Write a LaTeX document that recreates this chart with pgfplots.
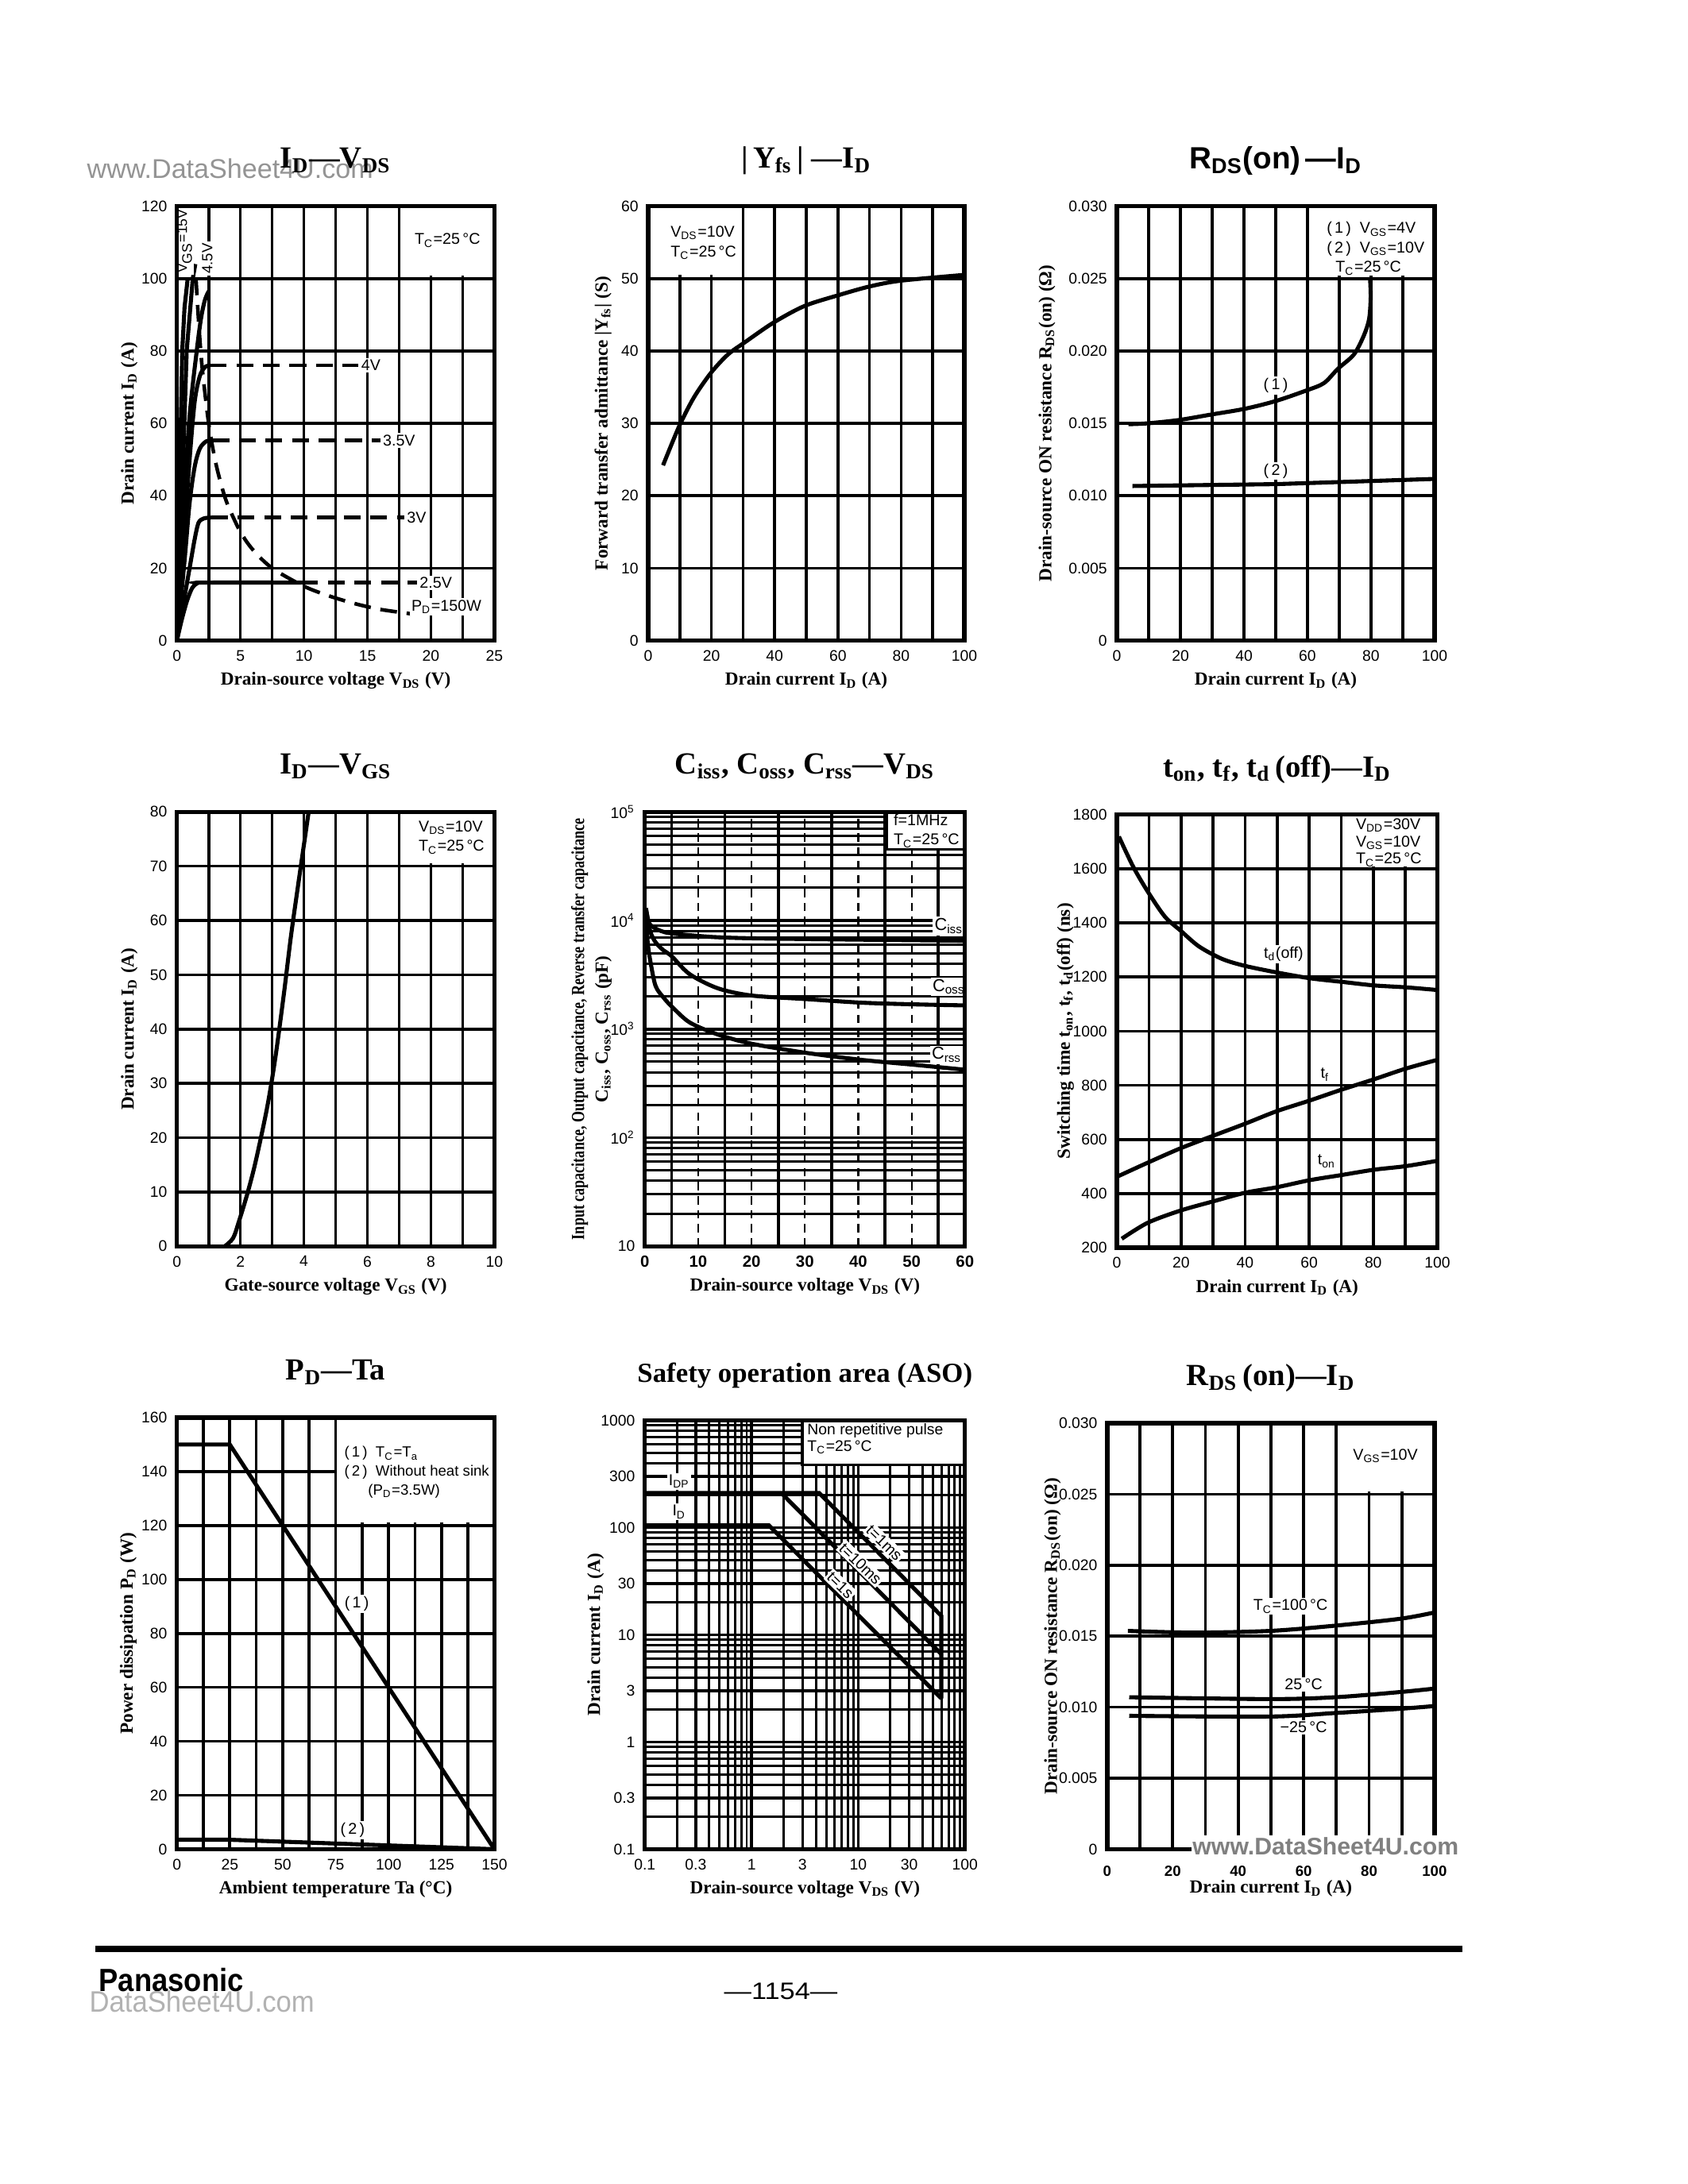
\documentclass[border=0pt]{standalone}
\usepackage{fontspec}
\setmainfont{Liberation Serif}
\newfontfamily\sansf{Liberation Sans}
\usepackage{pgfplots}
\pgfplotsset{compat=1.18}

\newcommand\tk{\sansf\fontsize{5.5}{6}\selectfont}
\newcommand\an{\sansf\fontsize{5.6}{7}\selectfont}
\newcommand\lb{\bfseries\fontsize{6.6}{7.5}\selectfont}
\newcommand\ti{\bfseries\fontsize{11}{12}\selectfont}
\newcommand\sbs[1]{\textsubscript{#1}}
\newcommand\axframe{\draw[line width=1.5pt] (rel axis cs:0,0) rectangle (rel axis cs:1,1);}

\tikzset{
  dsh/.style={line width=1.3pt, dash pattern=on 6pt off 3.5pt},
  lab/.style={font=\an, fill=white, inner sep=0.6pt},
}
\pgfplotsset{
  ds/.style={
    scale only axis, enlargelimits=false, clip=false, anchor=south west,
    axis line style={line width=1.5pt},
    grid=both,
    major grid style={line width=1.05pt,black},
    minor grid style={line width=1.05pt,black},
    major tick length=0pt, minor tick length=0pt,
    ticklabel style={font=\tk},
    scaled ticks=false,
    /pgf/number format/assume math mode=true,
    /pgf/number format/1000 sep={},
    title style={font=\ti, at={(axis description cs:0.5,1.066)}, anchor=center},
    xlabel style={font=\lb, at={(axis description cs:0.5,-0.093)}, anchor=center},
    ylabel style={font=\lb, anchor=center},
    every axis plot post/.append style={black, mark=none},
    every axis plot/.append style={line width=1.45pt},
  },
}

\begin{document}
\begin{tikzpicture}
\fill[white] (0,0) rectangle (21.25,-27.5);
\path[use as bounding box] (0,0) rectangle (21.25,-27.5);

% watermark top-left
\node[anchor=base west, inner sep=0, text=black!42] at (1.09,-2.24) {\sansf\fontsize{9.7}{10}\selectfont www.DataSheet4U.com};

%================ Chart 1: ID - VDS
\begin{axis}[ds, at={(2.227cm,-8.065cm)}, width=3.997cm, height=5.47cm,
  xmin=0,xmax=25,ymin=0,ymax=120,
  xtick={0,5,10,15,20,25}, minor xtick={2.5,7.5,12.5,17.5,22.5},
  ytick={0,20,40,60,80,100,120},
  title={I\sbs{D}—V\sbs{DS}},
  xlabel={Drain-source voltage V\sbs{DS} (V)},
  ylabel={Drain current I\sbs{D} (A)},
  ylabel style={at={(axis description cs:-0.15,0.5)}}]
\fill[white] (axis cs:17.65,100.7) rectangle (axis cs:25,120);
\node[font=\an] at (axis cs:21.3,110.5) {T\sbs{C}=25\,°C};
% steep curves
\addplot coordinates {(0,0) (0.2,40) (0.42,80) (0.6,92) (0.85,100)};
\addplot coordinates {(0,0) (0.4,40) (0.77,80) (1.25,100) (1.45,104)};
\addplot[smooth] coordinates {(0,0) (0.5,35) (1.0,62) (1.56,80) (1.9,89) (2.2,94) (2.5,96.5)};
\node[lab, rotate=90, font=\sansf\fontsize{5}{6}\selectfont] at (axis cs:0.62,110.3) {V\sbs{GS}=15V};
\node[lab, rotate=90, font=\sansf\fontsize{5.3}{6}\selectfont] at (axis cs:2.4,105.5) {4.5V};
% 4V
\addplot[smooth] coordinates {(0,0) (0.5,25) (1.0,50) (1.4,66) (1.8,73) (2.2,75.5) (2.6,76)};
\addplot[dsh] coordinates {(2.6,76) (14.3,76)};
\node[lab, anchor=west] at (axis cs:14.35,76) {4V};
% 3.5V
\addplot[smooth] coordinates {(0,0) (0.6,22) (1.0,38) (1.4,48) (1.8,53) (2.3,55) (2.8,55.3)};
\addplot[dsh] coordinates {(2.8,55.3) (16.0,55.3)};
\node[lab, anchor=west] at (axis cs:16.05,55.3) {3.5V};
% 3V
\addplot[smooth] coordinates {(0,0) (0.5,10) (1.0,20) (1.4,28) (1.7,32.5) (2.1,33.7) (2.7,34)};
\addplot[dsh] coordinates {(2.7,34) (17.9,34)};
\node[lab, anchor=west] at (axis cs:17.95,34) {3V};
% 2.5V
\addplot[smooth] coordinates {(0,0) (0.4,6) (0.8,11) (1.2,14.5) (1.6,15.8) (2.2,16) (9.8,16)};
\addplot[dsh] coordinates {(9.8,16) (18.9,16)};
\node[lab, anchor=west] at (axis cs:18.95,16) {2.5V};
% PD = 150 W
\addplot[dsh, smooth] coordinates {(1.5,100) (1.75,86) (2,75) (2.5,60) (3,50) (3.5,42.9) (4,37.5) (5,30) (6,25) (7.5,20) (10,15) (12,12.3) (14,10.2) (16,8.6) (18.4,7.4)};
\node[lab, anchor=west] at (axis cs:18.3,9.3) {P\sbs{D}=150W};
\axframe
\end{axis}

%================ Chart 2: |Yfs| - ID
\begin{axis}[ds, at={(8.16cm,-8.065cm)}, width=3.98cm, height=5.47cm,
  xmin=0,xmax=100,ymin=0,ymax=60,
  xtick={0,20,40,60,80,100}, minor xtick={10,30,50,70,90},
  ytick={0,10,20,30,40,50,60},
  title={|\,Y\sbs{fs}\,|\ —I\sbs{D}},
  xlabel={Drain current I\sbs{D} (A)},
  ylabel={Forward transfer admittance |Y\sbs{fs}| (S)},
  ylabel style={at={(axis description cs:-0.143,0.5)}}]
\fill[white] (axis cs:0,50.5) rectangle (axis cs:29.6,60);
\node[font=\an, align=left, anchor=north west] at (axis cs:4,58.6) {V\sbs{DS}=10V\\T\sbs{C}=25\,°C};
\addplot[smooth] coordinates {(4.7,24.2) (9.8,29.6) (14.5,33.6) (19.9,37.0) (25.2,39.5) (30.6,41.2) (39.6,43.9) (49.4,46.2) (60.2,47.7) (70,48.9) (79.9,49.7) (100,50.5)};
\axframe
\end{axis}

%================ Chart 3: RDS(on) - ID
\begin{axis}[ds, at={(14.061cm,-8.065cm)}, width=3.998cm, height=5.47cm,
  xmin=0,xmax=100,ymin=0,ymax=0.03,
  xtick={0,20,40,60,80,100}, minor xtick={10,30,50,70,90},
  ytick={0,0.005,0.01,0.015,0.02,0.025,0.03},
  yticklabels={0,0.005,0.010,0.015,0.020,0.025,0.030},
  title={\sansf R\sbs{DS}(on)\,—I\sbs{D}},
  xlabel={Drain current I\sbs{D} (A)},
  ylabel={Drain-source ON resistance R\sbs{DS}(on) (Ω)},
  ylabel style={at={(axis description cs:-0.22,0.5)}}]
\fill[white] (axis cs:60.5,0.0252) rectangle (axis cs:100,0.03);
\node[font=\an, align=left, anchor=north west] at (axis cs:63,0.0296) {(\,1\,)\ \ V\sbs{GS}=4V\\(\,2\,)\ \ V\sbs{GS}=10V\\\ \ T\sbs{C}=25\,°C};
\addplot[smooth] coordinates {(3.6,0.01494) (9.8,0.0150) (19.6,0.01523) (29.5,0.0156) (40.2,0.0160) (50,0.01654) (59.8,0.01728) (65.2,0.01778) (69.6,0.01877) (74.6,0.01975) (77.7,0.02104) (79.4,0.0222) (79.9,0.0237) (79.7,0.0250)};
\addplot coordinates {(4.9,0.01067) (50,0.0108) (100,0.01116)};
\node[lab] at (axis cs:50,0.0176) {(\,1\,)};
\node[lab] at (axis cs:50,0.0117) {(\,2\,)};
\axframe
\end{axis}

%================ Chart 4: ID - VGS
\begin{axis}[ds, at={(2.227cm,-15.692cm)}, width=3.997cm, height=5.47cm,
  xmin=0,xmax=10,ymin=0,ymax=80,
  xtick={0,2,4,6,8,10}, minor xtick={1,3,5,7,9},
  ytick={0,10,20,30,40,50,60,70,80},
  title={I\sbs{D}—V\sbs{GS}},
  xlabel={Gate-source voltage V\sbs{GS} (V)},
  ylabel={Drain current I\sbs{D} (A)},
  ylabel style={at={(axis description cs:-0.15,0.5)}}]
\fill[white] (axis cs:7.05,70.6) rectangle (axis cs:10,80);
\node[font=\an, align=left] at (axis cs:8.65,75.3) {V\sbs{DS}=10V\\T\sbs{C}=25\,°C};
\addplot[smooth] coordinates {(1.51,0) (1.77,1.5) (1.95,4.5) (2.22,9.7) (2.48,15.6) (2.84,25.5) (3.10,34.7) (3.37,46.5) (3.59,57) (3.81,66.2) (3.99,73.5) (4.15,80)};
\axframe
\end{axis}

%================ Chart 5: Capacitances - VDS
\begin{axis}[ds, at={(8.118cm,-15.692cm)}, width=4.03cm, height=5.47cm,
  xmin=0,xmax=60, ymode=log, ymin=10, ymax=100000,
  xtick={0,10,20,30,40,50,60}, minor xtick={5,15,25,35,45,55},
  ytick={10,100,1000,10000,100000},
  yticklabels={10,10\textsuperscript{2},10\textsuperscript{3},10\textsuperscript{4},10\textsuperscript{5}},
  minor ytick={20,30,40,50,60,70,80,90,200,300,400,500,600,700,800,900,2000,3000,4000,5000,6000,7000,8000,9000,20000,30000,40000,50000,60000,70000,80000,90000},
  major x grid style={line width=0.6pt, dash pattern=on 3pt off 2pt},
  minor y grid style={line width=0.85pt},
  xticklabel style={font=\sansf\bfseries\fontsize{5.8}{6}\selectfont},
  title={C\sbs{iss}, C\sbs{oss}, C\sbs{rss}—V\sbs{DS}},
  xlabel={Drain-source voltage V\sbs{DS} (V)},
  ylabel={{\scalebox{0.78}[1]{Input capacitance, Output capacitance, Reverse transfer capacitance}}\\[1pt]C\sbs{iss}, C\sbs{oss}, C\sbs{rss} (pF)},
  ylabel style={align=center, at={(axis description cs:-0.167,0.5)}}]
\fill[white, draw=black, line width=1pt] (axis cs:45.4,45000) rectangle (axis cs:60,100000);
\node[font=\an, align=left] at (axis cs:52.8,67000) {f=1MHz\\T\sbs{C}=25\,°C};
\addplot[smooth] coordinates {(0.2,13000) (0.9,9250) (3,8000) (5,7600) (10,7200) (13.7,7000) (20,6850) (35,6700) (50,6580) (60,6500)};
\addplot[smooth] coordinates {(0.2,13000) (1,8000) (2,6300) (3.5,5300) (5,4700) (8.4,3200) (13.7,2370) (20,2035) (30,1890) (40.5,1750) (50,1690) (60,1650)};
\addplot[smooth] coordinates {(0.2,12000) (0.5,6500) (1,4300) (2,2500) (3.5,1950) (5,1620) (8.4,1150) (13.7,890) (20,733) (30,606) (40.5,521) (51,466) (60,422)};
\node[lab, font=\sansf\fontsize{6.2}{7}\selectfont] at (axis cs:57,8900) {C\sbs{iss}};
\node[lab, font=\sansf\fontsize{6.2}{7}\selectfont] at (axis cs:57,2450) {C\sbs{oss}};
\node[lab, font=\sansf\fontsize{6.2}{7}\selectfont] at (axis cs:56.6,580) {C\sbs{rss}};
\axframe
\end{axis}

%================ Chart 6: switching times - ID
\begin{axis}[ds, at={(14.061cm,-15.71cm)}, width=4.033cm, height=5.453cm,
  xmin=0,xmax=100,ymin=200,ymax=1800,
  xtick={0,20,40,60,80,100}, minor xtick={10,30,50,70,90},
  ytick={200,400,600,800,1000,1200,1400,1600,1800},
  title={t\sbs{on}, t\sbs{f}, t\sbs{d}\,(off)—I\sbs{D}},
  xlabel={Drain current I\sbs{D} (A)},
  ylabel={Switching time t\sbs{on}, t\sbs{f}, t\sbs{d}(off) (ns)},
  ylabel style={at={(axis description cs:-0.161,0.5)}}]
\fill[white] (axis cs:70.5,1608) rectangle (axis cs:100,1800);
\node[font=\sansf\fontsize{5.6}{6.2}\selectfont, align=left, anchor=north west, inner sep=0.5pt] at (axis cs:74,1793) {V\sbs{DD}=30V\\V\sbs{GS}=10V\\T\sbs{C}=25\,°C};
\addplot[smooth] coordinates {(0.6,1719) (5.1,1607) (9.6,1516) (14.9,1424) (19.8,1372) (25.6,1313) (32.8,1267) (40,1241) (50.7,1215) (60.5,1195) (70.3,1182) (80.2,1169) (90,1162) (100,1152)};
\addplot[smooth] coordinates {(0,462) (9.6,514) (19.8,567) (29.7,612) (40,658) (49.8,704) (60,743) (69.9,783) (80.2,822) (90,861) (100,894)};
\addplot[smooth] coordinates {(1.5,233) (9.6,292) (19.8,337) (29.7,370) (40,403) (49.8,423) (60,449) (69.9,468) (80.2,488) (90,501) (100,521)};
\node[lab] at (axis cs:52,1285) {t\sbs{d}(off)};
\node[lab] at (axis cs:65,840) {t\sbs{f}};
\node[lab] at (axis cs:65.5,520) {t\sbs{on}};
\axframe
\end{axis}

%================ Chart 7: PD - Ta
\begin{axis}[ds, at={(2.227cm,-23.284cm)}, width=3.997cm, height=5.435cm,
  xmin=0,xmax=150,ymin=0,ymax=160,
  xtick={0,25,50,75,100,125,150}, minor xtick={12.5,37.5,62.5,87.5,112.5,137.5},
  ytick={0,20,40,60,80,100,120,140,160},
  title={P\sbs{D}—Ta},
  xlabel={Ambient temperature Ta (°C)},
  ylabel={Power dissipation P\sbs{D} (W)},
  ylabel style={at={(axis description cs:-0.153,0.5)}}]
\fill[white] (axis cs:75.6,121) rectangle (axis cs:150,160);
\node[font=\sansf\fontsize{5.3}{6.8}\selectfont, align=left, anchor=north west] at (axis cs:74.5,153) {(\,1\,)\ \ T\sbs{C}=T\sbs{a}\\(\,2\,)\ \ Without heat sink\\\hspace{1.6em}(P\sbs{D}=3.5W)};
\addplot coordinates {(0,150) (25,150) (150,0)};
\addplot coordinates {(0,3.5) (25,3.5) (150,0)};
\node[lab] at (axis cs:85,91) {(\,1\,)};
\node[lab] at (axis cs:83,7) {(\,2\,)};
\axframe
\end{axis}

%================ Chart 8: ASO
\begin{axis}[ds, at={(8.118cm,-23.284cm)}, width=4.03cm, height=5.40cm,
  xmode=log, ymode=log, xmin=0.1,xmax=100,ymin=0.1,ymax=1000,
  xtick={0.1,0.3,1,3,10,30,100}, xticklabels={0.1,0.3,1,3,10,30,100},
  minor xtick={0.2,0.4,0.5,0.6,0.7,0.8,0.9,2,4,5,6,7,8,9,20,40,50,60,70,80,90},
  ytick={0.1,0.3,1,3,10,30,100,300,1000}, yticklabels={0.1,0.3,1,3,10,30,100,300,1000},
  minor ytick={0.2,0.4,0.5,0.6,0.7,0.8,0.9,2,4,5,6,7,8,9,20,40,50,60,70,80,90,200,400,500,600,700,800,900},
  major grid style={line width=0.95pt},
  minor grid style={line width=0.85pt},
  title={Safety operation area (ASO)},
  title style={font=\bfseries\fontsize{9.9}{12}\selectfont},
  xlabel={Drain-source voltage V\sbs{DS} (V)},
  ylabel={Drain current I\sbs{D} (A)},
  ylabel style={at={(axis description cs:-0.154,0.5)}}]
\fill[white, draw=black, line width=1pt] (axis cs:3.0,385) rectangle (axis cs:100,1000);
\node[font=\sansf\fontsize{5.5}{6}\selectfont, align=left, anchor=north west, inner sep=0.5pt] at (axis cs:3.2,975) {Non repetitive pulse\\T\sbs{C}=25\,°C};
\addplot coordinates {(0.1,210) (4.3,210) (60,15) (60,2.55)};
\addplot coordinates {(1.9,210) (60,6.6)};
\addplot coordinates {(0.1,105) (1.45,105) (60,2.55)};
\node[lab] at (axis cs:0.21,270) {I\sbs{DP}};
\node[lab] at (axis cs:0.21,140) {I\sbs{D}};
\node[lab, rotate=-44] at (axis cs:17.5,72) {t=1ms};
\node[lab, rotate=-44] at (axis cs:10.5,46) {t=10ms};
\node[lab, rotate=-44] at (axis cs:6.8,29) {t=1s};
\axframe
\end{axis}

%================ Chart 9: RDS(on) - ID (temperature)
\begin{axis}[ds, at={(13.939cm,-23.284cm)}, width=4.12cm, height=5.365cm,
  xmin=0,xmax=100,ymin=0,ymax=0.03,
  xtick={0,20,40,60,80,100}, minor xtick={10,30,50,70,90},
  ytick={0,0.005,0.01,0.015,0.02,0.025,0.03},
  yticklabels={0,0.005,0.010,0.015,0.020,0.025,0.030},
  xticklabel style={yshift=-2.5pt, font=\sansf\bfseries\fontsize{5.3}{6}\selectfont},
  title={R\sbs{DS}\,(on)—I\sbs{D}},
  xlabel={Drain current I\sbs{D} (A)},
  ylabel={Drain-source ON resistance R\sbs{DS}(on) (Ω)},
  ylabel style={at={(axis description cs:-0.167,0.5)}}]
\fill[white] (axis cs:71,0.0252) rectangle (axis cs:100,0.03);
\node[font=\an] at (axis cs:85,0.0277) {V\sbs{GS}=10V};
\addplot[smooth] coordinates {(6.3,0.01537) (26.3,0.01525) (49.7,0.01537) (69.7,0.01574) (89.7,0.01623) (100,0.01667)};
\addplot[smooth] coordinates {(6.7,0.0107) (49.7,0.01057) (69.7,0.0107) (89.7,0.01107) (100,0.01131)};
\addplot[smooth] coordinates {(6.7,0.00939) (49.7,0.00934) (69.7,0.00959) (89.7,0.00989) (100,0.01008)};
\node[lab] at (axis cs:56,0.0171) {T\sbs{C}=100\,°C};
\node[lab] at (axis cs:60,0.0116) {25\,°C};
\node[lab] at (axis cs:60,0.0086) {−25\,°C};
\axframe
\end{axis}

% watermark on chart 9
\node[anchor=base west, inner sep=0.5pt, fill=white, text=black!50] at (14.99,-23.35) {\sansf\bfseries\fontsize{8.6}{9}\selectfont www.DataSheet4U.com};

% footer
\draw[line width=0.08cm] (1.20,-24.54) -- (18.41,-24.54);
\node[anchor=base west, inner sep=0] at (1.24,-25.07) {\scalebox{0.9}[1]{\sansf\bfseries\fontsize{11.5}{12}\selectfont Panasonic}};
\node[anchor=base, inner sep=0] at (9.83,-25.17) {\scalebox{1.15}[1]{\sansf\fontsize{8.5}{9}\selectfont —1154—}};
\node[anchor=base west, inner sep=0, text=black!30] at (1.12,-25.33) {\scalebox{0.93}[1]{\sansf\fontsize{10.6}{11}\selectfont DataSheet4U.com}};
\end{tikzpicture}
\end{document}
